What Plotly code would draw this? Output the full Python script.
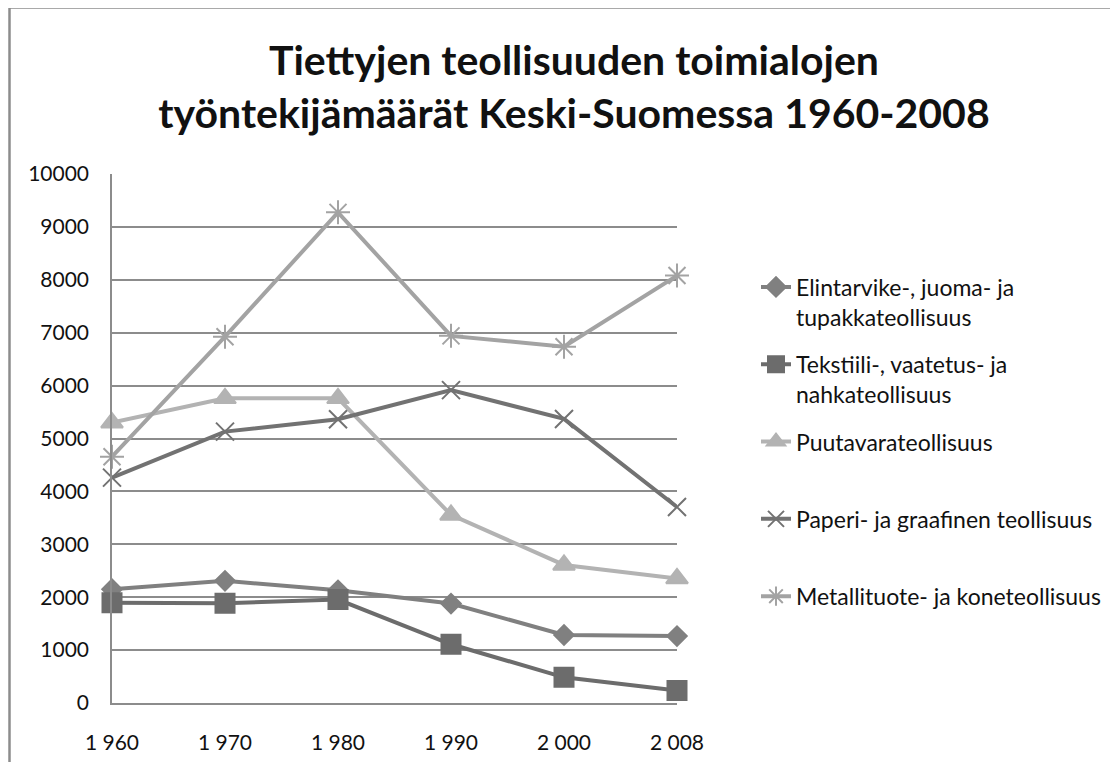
import plotly.graph_objects as go

years = ["1960", "1970", "1980", "1990", "2000", "2008"]
year_labels = ["1 960", "1 970", "1 980", "1 990", "2 000", "2 008"]

elintarvike = [2150, 2310, 2130, 1880, 1285, 1265]
tekstiili = [1895, 1885, 1955, 1110, 485, 235]
puutavara = [5300, 5760, 5760, 3555, 2610, 2355]
paperi = [4260, 5130, 5365, 5915, 5370, 3705]
metalli = [4655, 6925, 9275, 6940, 6735, 8080]

series_names = [
    "Elintarvike-, juoma- ja<br>tupakkateollisuus",
    "Tekstiili-, vaatetus- ja<br>nahkateollisuus",
    "Puutavarateollisuus<br> ",
    "Paperi- ja graafinen teollisuus<br> ",
    "Metallituote- ja koneteollisuus<br> ",
]
series_values = [elintarvike, tekstiili, puutavara, paperi, metalli]
colors = ["#808080", "#6c6c6c", "#b3b3b3", "#727272", "#a3a3a3"]
symbols = ["diamond", "square", "triangle-up", "x-thin-open", "asterisk-open"]
sizes = [15, 19, 19, 18, 20]

FONT = "Lato"

fig = go.Figure()
for i, (name, vals) in enumerate(zip(series_names, series_values)):
    fig.add_trace(go.Scatter(
        x=years, y=vals, name=name, mode="lines+markers",
        line=dict(color=colors[i], width=4),
        marker=dict(symbol=symbols[i], size=sizes[i], color=colors[i],
                    line=dict(color=colors[i], width=2)),
        cliponaxis=False, legendgroup=f"g{i}",
    ))

# page body has an 8px margin, so the figure is offset by 8px
OFF = 8
W, H = 1118 - OFF, 762 - OFF
L = 112 - OFF
T = 174 - OFF
plot_right = 677 - OFF
plot_bottom = 703 - OFF
R = W - plot_right
B = H - plot_bottom
pw, ph = W - L - R, H - T - B

def px_x(x):
    return (x - OFF - L) / pw

def px_y(y):
    return (plot_bottom - (y - OFF)) / ph

fig.update_layout(
    width=W, height=H,
    margin=dict(l=L, r=R, t=T, b=B, autoexpand=False),
    paper_bgcolor="white", plot_bgcolor="white",
    font=dict(family=FONT, color="#111111"),
    title=dict(
        text="Tiettyjen teollisuuden toimialojen<br>työntekijämäärät Keski-Suomessa 1960-2008",
        x=(574 - OFF) / W, xref="container", xanchor="center",
        y=1 - (75 - OFF) / H, yref="container", yanchor="top",
        font=dict(family=FONT, size=41, weight="bold", color="#111111"),
    ),
    xaxis=dict(
        type="category", categoryorder="array", categoryarray=years,
        tickmode="array", tickvals=years, ticktext=year_labels,
        range=[0, 5], showgrid=False, showline=True, linecolor="#8c8c8c",
        linewidth=1.5, ticks="", ticklabelstandoff=20,
        tickfont=dict(family=FONT, size=21, color="#111111"),
        zeroline=False,
    ),
    yaxis=dict(
        range=[0, 10000], dtick=1000, tick0=0, tickformat="d", showgrid=True,
        gridcolor="#8c8c8c", gridwidth=1.5, showline=True,
        linecolor="#8c8c8c", linewidth=1.5, ticks="", ticklabelstandoff=17,
        tickfont=dict(family=FONT, size=21, color="#111111"),
        zeroline=False,
    ),
    legend=dict(
        x=px_x(756), y=px_y(265.5), xanchor="left", yanchor="top",
        font=dict(family=FONT, size=23, color="#111111"),
        valign="top", tracegroupgap=14.5, itemwidth=30,
        bgcolor="rgba(0,0,0,0)",
    ),
    shapes=[
        dict(type="line", xref="paper", yref="paper",
             x0=px_x(9.5), x1=px_x(9.5), y0=px_y(780), y1=px_y(7.5),
             line=dict(color="#8c8c8c", width=2.5)),
        dict(type="line", xref="paper", yref="paper",
             x0=px_x(9.5), x1=px_x(1130), y0=px_y(7.5), y1=px_y(7.5),
             line=dict(color="#8c8c8c", width=2.5)),
    ],
)

fig.write_html("out.html")
